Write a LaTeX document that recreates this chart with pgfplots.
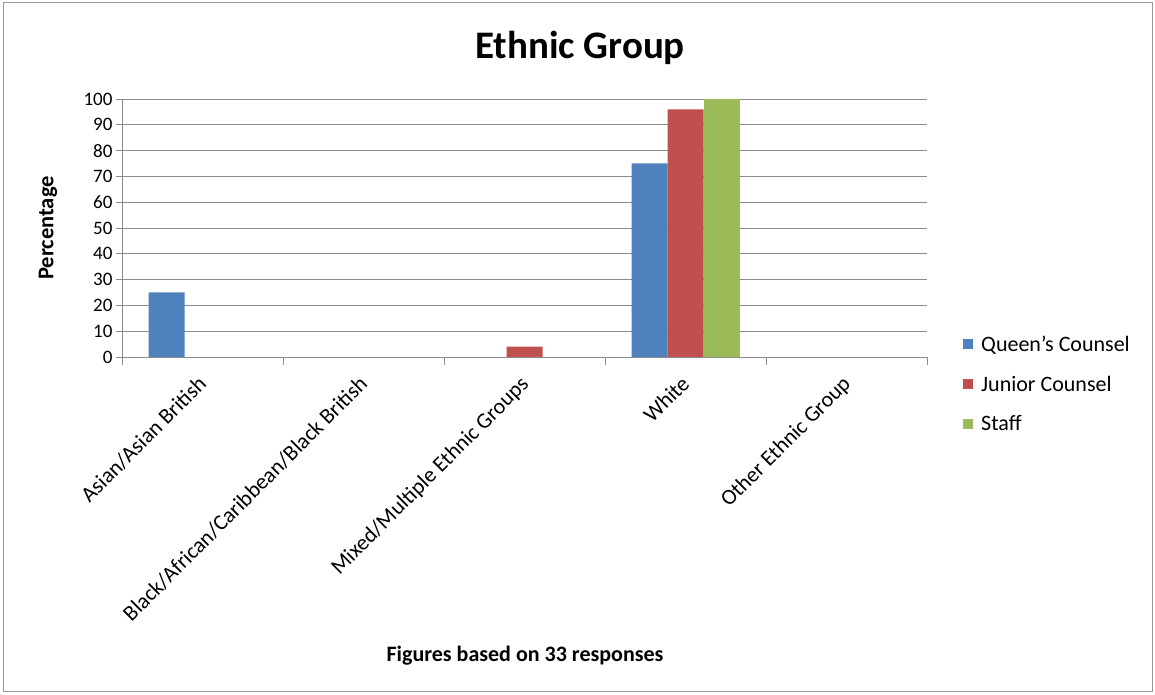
\documentclass[border=0pt]{standalone}
\usepackage{fontspec}
\setmainfont{Carlito}
\usepackage{pgfplots}
\pgfplotsset{compat=1.18}
\definecolor{qc}{HTML}{4F81BD}
\definecolor{jc}{HTML}{C0504D}
\definecolor{st}{HTML}{9BBB59}
\definecolor{gridc}{HTML}{8C8C8C}
\begin{document}
\begin{tikzpicture}[x=1pt,y=1pt]
\path (0,0) rectangle (1155,695);
\draw[black!40, line width=1pt] (3,3) rectangle (1152,692);
\node[font=\fontsize{39}{42}\selectfont\bfseries] at (580,647) {Ethnic Group};
\node[font=\fontsize{22}{24}\selectfont\bfseries] at (525,39) {Figures based on 33 responses};
\begin{axis}[
  at={(122pt,338pt)}, anchor=south west, scale only axis,
  width=805pt, height=258pt,
  ybar=0pt, bar width=36pt,
  xmin=-0.5, xmax=4.5, ymin=0, ymax=100,
  ytick={0,10,...,100},
  xtick={0,1,2,3,4},
  xticklabels={Asian/Asian British, Black/African/Caribbean/Black British, Mixed/Multiple Ethnic Groups, White, Other Ethnic Group},
  minor xtick={-0.5,0.5,1.5,2.5,3.5,4.5},
  major x tick style={draw=none},
  minor tick style={gridc, line width=0.8pt},
  major tick style={gridc, line width=0.8pt},
  tick align=outside,
  major tick length=6pt, minor tick length=8pt,
  axis x line*=bottom, axis y line*=left,
  axis line style={gridc, line width=0.8pt, -},
  ymajorgrids, major grid style={gridc, line width=0.8pt},
  /pgf/number format/assume math mode=true,
  yticklabel style={font=\fontsize{19}{22}\selectfont},
  xticklabel style={rotate=45, anchor=north east, inner sep=2pt, font=\fontsize{22}{24}\selectfont, yshift=-2pt, xshift=-10pt},
  every axis y label/.style={at={(rel axis cs:0,0.5)}, xshift=-74pt, rotate=90, anchor=center, font=\fontsize{22.5}{24}\selectfont\bfseries},
  ylabel={Percentage},
  legend style={at={(1.041,-0.105)}, anchor=west, draw=none, font=\fontsize{22}{24}\selectfont, row sep=19pt, legend cell align=left},
  legend image code/.code={\fill[#1] (0pt,-5pt) rectangle (10pt,5pt);},
  /tikz/every odd column/.append style={column sep=6pt},
]
\addplot[fill=qc, draw=none] coordinates {(0,25) (3,75)};
\addplot[fill=jc, draw=none] coordinates {(2,4) (3,96)};
\addplot[fill=st, draw=none] coordinates {(3,100)};
\legend{Queen's Counsel, Junior Counsel, Staff}
\end{axis}
\end{tikzpicture}
\end{document}
